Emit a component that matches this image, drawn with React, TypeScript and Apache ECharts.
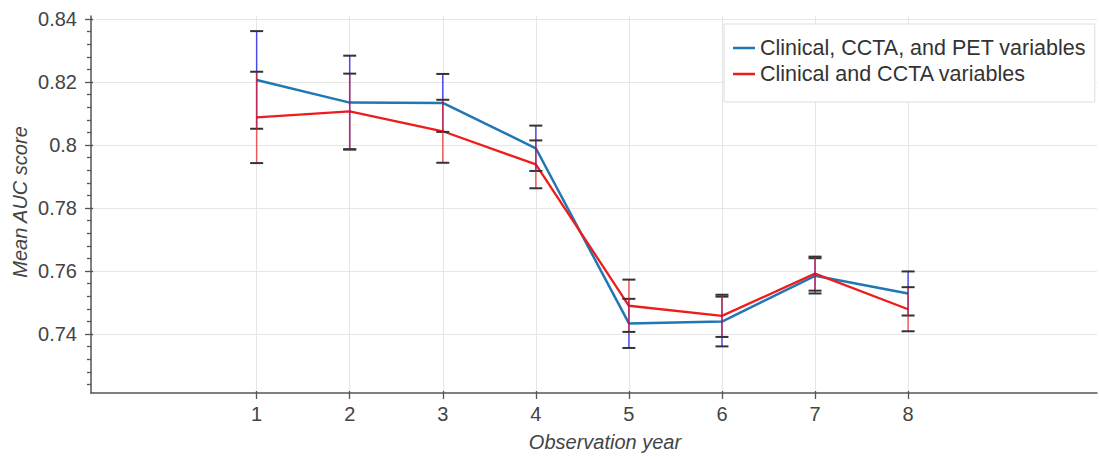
import React, { useEffect, useRef } from "react";
import * as echarts from "echarts";

const years = [1, 2, 3, 4, 5, 6, 7, 8];
const seriesNames = ["Clinical, CCTA, and PET variables", "Clinical and CCTA variables"];
const blueMean = [0.8207, 0.8135, 0.8134, 0.799, 0.7434, 0.744, 0.7585, 0.7529];
const blueErr = [0.0155, 0.0149, 0.0092, 0.0072, 0.0078, 0.0079, 0.0056, 0.007];
const redMean = [0.8088, 0.8107, 0.8044, 0.7939, 0.749, 0.7458, 0.7592, 0.7479];
const redErr = [0.0145, 0.012, 0.01, 0.0076, 0.0083, 0.0067, 0.0054, 0.007];
const yMajorTicks = [0.74, 0.76, 0.78, 0.8, 0.82, 0.84];
const yMinorTicks = [
  0.724, 0.728, 0.732, 0.736, 0.744, 0.748, 0.752, 0.756, 0.764, 0.768, 0.772, 0.776,
  0.784, 0.788, 0.792, 0.796, 0.804, 0.808, 0.812, 0.816, 0.824, 0.828, 0.832, 0.836,
];
const xTitle = "Observation year";
const yTitle = "Mean AUC score";

const FONT = "Liberation Sans, Arial, sans-serif";
const Y_MIN = 0.7213;
const Y_MAX = 0.841;
const X_MIN = -0.78;
const X_MAX = 10.03;
const BLUE = "#1f77b4";
const RED = "#ee1c1c";

function errorRenderer(whisker: string) {
  return (params: any, api: any) => {
    const x = api.value(0);
    const m = api.value(1);
    const e = api.value(2);
    const top = api.coord([x, m + e]);
    const bot = api.coord([x, m - e]);
    const hw = 6.5;
    return {
      type: "group",
      children: [
        {
          type: "line",
          shape: { x1: top[0], y1: top[1], x2: bot[0], y2: bot[1] },
          style: { stroke: whisker, lineWidth: 1.5 },
        },
        {
          type: "line",
          shape: { x1: top[0] - hw, y1: top[1], x2: top[0] + hw, y2: top[1] },
          style: { stroke: "#333", lineWidth: 2 },
        },
        {
          type: "line",
          shape: { x1: bot[0] - hw, y1: bot[1], x2: bot[0] + hw, y2: bot[1] },
          style: { stroke: "#333", lineWidth: 2 },
        },
      ],
    };
  };
}

export default function App() {
  const ref = useRef<HTMLDivElement>(null);
  useEffect(() => {
    if (!ref.current) return;
    const chart = echarts.init(ref.current, null, { renderer: "svg" });
    const axisColor = "#555";
    const labelStyle = { color: "#444", fontSize: 20, fontFamily: FONT };
    const hiddenAxisParts = {
      axisLine: { show: false, onZero: false },
      axisLabel: { show: false },
      splitLine: { show: false },
    };
    chart.setOption({
      animation: false,
      backgroundColor: "#fff",
      grid: { left: 91, right: 2, top: 16, bottom: 64, containLabel: false },
      legend: {
        data: [
          { name: seriesNames[0], icon: "rect", itemStyle: { color: BLUE } },
          { name: seriesNames[1], icon: "rect", itemStyle: { color: RED } },
        ],
        orient: "vertical",
        left: 724,
        top: 24,
        padding: [13, 9, 17, 9],
        itemWidth: 22,
        itemHeight: 2.5,
        itemGap: 4,
        borderColor: "#dedede",
        borderWidth: 1,
        backgroundColor: "#fff",
        textStyle: { fontSize: 21.5, color: "#333", fontFamily: FONT },
      },
      xAxis: [
        {
          type: "value",
          min: X_MIN,
          max: X_MAX,
          axisLine: { show: true, onZero: false, lineStyle: { color: axisColor, width: 1.5 } },
          axisTick: { show: true, customValues: years, length: 6, lineStyle: { color: axisColor, width: 1.3 } },
          axisLabel: { show: true, customValues: years, margin: 11, ...labelStyle },
          splitLine: { show: true, lineStyle: { color: "#e6e6e6", width: 1 } },
        },
        {
          type: "value",
          min: X_MIN,
          max: X_MAX,
          position: "bottom",
          ...hiddenAxisParts,
          axisTick: { show: true, inside: true, customValues: years, length: 2, lineStyle: { color: axisColor, width: 1.3 } },
        },
      ],
      yAxis: [
        {
          type: "value",
          min: Y_MIN,
          max: Y_MAX,
          axisLine: { show: true, onZero: false, lineStyle: { color: axisColor, width: 1.5 } },
          axisTick: { show: true, customValues: yMajorTicks, length: 6, lineStyle: { color: axisColor, width: 1.3 } },
          axisLabel: { show: true, customValues: yMajorTicks, margin: 14, ...labelStyle },
          splitLine: { show: true, lineStyle: { color: "#e6e6e6", width: 1 } },
        },
        {
          type: "value",
          min: Y_MIN,
          max: Y_MAX,
          position: "left",
          ...hiddenAxisParts,
          axisTick: { show: true, inside: true, customValues: yMajorTicks, length: 2, lineStyle: { color: axisColor, width: 1.3 } },
        },
        {
          type: "value",
          min: Y_MIN,
          max: Y_MAX,
          position: "left",
          ...hiddenAxisParts,
          axisTick: { show: true, customValues: yMinorTicks, length: 4, lineStyle: { color: axisColor, width: 1.3 } },
        },
      ],
      graphic: [
        {
          type: "text",
          x: 605,
          y: 442,
          style: {
            text: xTitle,
            font: `italic 20px ${FONT}`,
            fill: "#444",
            align: "center",
            verticalAlign: "middle",
          },
        },
        {
          type: "text",
          x: 20,
          y: 202,
          rotation: Math.PI / 2,
          style: {
            text: yTitle,
            font: `italic 20px ${FONT}`,
            fill: "#444",
            align: "center",
            verticalAlign: "middle",
          },
        },
      ],
      series: [
        {
          name: seriesNames[0],
          type: "line",
          data: years.map((y, i) => [y, blueMean[i]]),
          symbol: "none",
          color: BLUE,
          lineStyle: { width: 2.5, color: BLUE },
          z: 2,
        },
        {
          name: seriesNames[1],
          type: "line",
          data: years.map((y, i) => [y, redMean[i]]),
          symbol: "none",
          color: RED,
          lineStyle: { width: 2.3, color: RED },
          z: 2,
        },
        {
          name: "err-blue",
          type: "custom",
          renderItem: errorRenderer("rgba(20,20,235,0.75)"),
          data: years.map((y, i) => [y, blueMean[i], blueErr[i]]),
          encode: { x: 0, y: 1 },
          z: 3,
        },
        {
          name: "err-red",
          type: "custom",
          renderItem: errorRenderer("rgba(235,30,30,0.7)"),
          data: years.map((y, i) => [y, redMean[i], redErr[i]]),
          encode: { x: 0, y: 1 },
          z: 4,
        },
      ],
    });
    return () => chart.dispose();
  }, []);
  return (
    <div
      ref={ref}
      style={{ position: "fixed", left: 0, top: 0, width: 1099, height: 457, background: "#fff" }}
    />
  );
}
